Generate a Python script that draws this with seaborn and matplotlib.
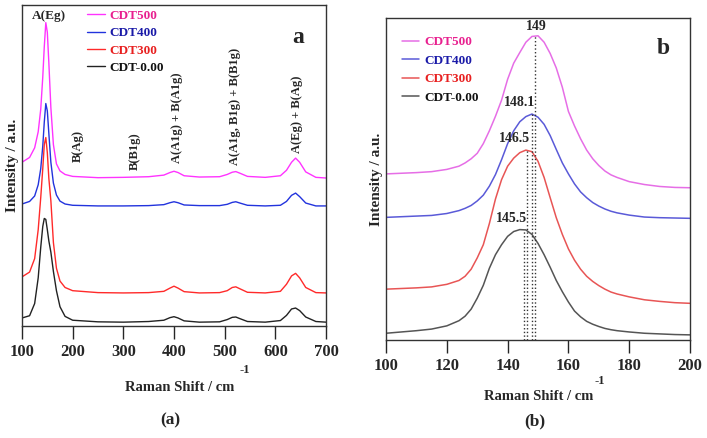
#!/usr/bin/env python3
# -*- coding: utf-8 -*-
"""
plot.py

Raman spectra of the CDT samples: full range (a) and zoom on the Eg band (b)
"""

import matplotlib

matplotlib.use("Agg")
import matplotlib.pyplot as plt
import numpy as np
import pandas as pd
import seaborn as sns

# Sample names, legend order (top curve first)
SAMPLES = ["CDT500", "CDT400", "CDT300", "CDT-0.00"]

# Panel (a): Raman shift (cm-1) and offset intensities (a.u.)
SHIFT_A = [100, 115, 125, 132, 137, 141, 144, 147, 150, 153, 157, 162, 168,
           175, 185, 200, 250, 300, 350, 380, 392, 400, 408, 420, 450, 490,
           505, 515, 522, 530, 545, 580, 610, 622, 632, 640, 648, 660, 680,
           700]
CDT500_A = [51.0, 52.5, 55.5, 60.5, 67.5, 77.5, 87.0, 94.5, 91.5, 82.0, 68.0,
            56.5, 50.5, 48.3, 47.2, 46.6, 46.2, 46.3, 46.5, 47.0, 47.8, 48.2,
            47.8, 46.8, 46.4, 46.5, 47.2, 47.9, 48.1, 47.6, 46.6, 46.3, 46.8,
            48.5, 51.0, 52.3, 51.0, 48.0, 46.3, 46.1]
CDT400_A = [38.0, 38.8, 40.5, 44.0, 49.0, 56.0, 63.5, 69.3, 67.0, 60.0, 51.0,
            44.5, 40.8, 38.9, 38.0, 37.6, 37.4, 37.4, 37.5, 37.8, 38.4, 38.7,
            38.4, 37.7, 37.5, 37.5, 37.9, 38.5, 38.7, 38.3, 37.6, 37.4, 37.6,
            38.8, 40.7, 41.4, 40.3, 38.3, 37.4, 37.4]
CDT300_A = [15.3, 16.8, 21.0, 30.0, 40.0, 49.0, 56.5, 58.7, 54.0, 46.0, 39.0,
            26.0, 18.0, 14.0, 12.0, 11.0, 10.4, 10.3, 10.4, 10.8, 11.8, 12.4,
            11.8, 10.7, 10.3, 10.4, 11.0, 12.0, 12.2, 11.6, 10.5, 10.3, 10.8,
            13.0, 15.6, 16.4, 15.0, 12.0, 10.4, 10.3]
CDT000_A = [2.5, 3.2, 7.0, 15.0, 24.5, 31.0, 33.5, 33.2, 30.0, 26.5, 23.0,
            17.0, 11.0, 6.0, 3.0, 1.8, 1.3, 1.2, 1.4, 1.8, 2.6, 2.9, 2.5, 1.6,
            1.2, 1.3, 2.0, 2.7, 2.8, 2.3, 1.4, 1.2, 1.7, 3.3, 5.3, 5.6, 4.8,
            2.8, 1.4, 1.2]

# Band assignments of panel (a)
BANDS = ["B(Ag)", "B(B1g)", "A(A1g) + B(A1g)", "A(A1g, B1g) + B(B1g)",
         "A(Eg) + B(Ag)"]
BAND_POS = [211, 323, 405, 520, 642]

# Panel (b): zoom on the Eg band
SHIFT_B = [100, 105, 110, 115, 120,
           124, 126, 128, 130, 132, 134, 136, 138, 140, 142, 144, 146, 148,
           150, 152, 154, 156, 158, 160, 162, 164, 166, 168, 170, 172, 174,
           176,
           180, 185, 190, 195, 200]
CDT500_B = [51.6, 51.8, 52.0, 52.3, 53.0,
            54.0, 55.0, 56.3, 58.0, 61.0, 65.0, 69.5, 74.5, 81.0, 86.0, 89.3,
            92.5, 94.3, 94.5, 92.5, 89.0, 84.5, 78.5, 71.0, 66.5, 62.5, 59.0,
            56.3, 54.2, 52.5, 51.3, 50.5,
            49.2, 48.3, 47.7, 47.4, 47.3]
CDT400_B = [38.1, 38.3, 38.5, 38.7, 39.3,
            40.2, 40.9, 41.8, 43.2, 45.0, 47.8, 51.4, 56.0, 61.0, 65.0, 67.8,
            69.4, 70.2, 69.2, 67.0, 63.5, 59.2, 55.0, 51.6, 48.5, 46.0, 44.2,
            42.7, 41.6, 40.7, 40.0, 39.5,
            38.8, 38.2, 38.0, 37.9, 37.8]
CDT300_B = [15.8, 16.0, 16.2, 16.5, 17.3,
            18.5, 19.8, 22.0, 25.5, 29.6, 36.2, 43.8, 49.8, 54.0, 56.5, 58.2,
            59.0, 58.5, 55.5, 50.5, 44.2, 38.0, 32.8, 28.3, 24.8, 22.0, 19.8,
            18.2, 16.9, 15.8, 14.9, 14.3,
            13.4, 12.5, 12.0, 11.6, 11.4]
CDT000_B = [2.1, 2.5, 2.9, 3.4, 4.4,
            6.0, 7.4, 9.6, 13.0, 17.0, 22.3, 26.5, 29.6, 32.2, 33.7, 34.3,
            34.2, 32.8, 30.0, 26.5, 22.6, 18.5, 15.0, 11.8, 9.0, 7.2, 5.8,
            4.9, 4.2, 3.6, 3.2, 2.9,
            2.5, 2.1, 1.9, 1.7, 1.6]

# Peak positions of the Eg band read in panel (b), same order as SAMPLES
PEAK_POS = [149.0, 148.1, 146.5, 145.5]
PEAK_LABELS = ["149", "148.1", "146.5", "145.5"]

COLORS_A = ["#ff33ff", "#2233dd", "#ff2a2a", "#222222"]
COLORS_B = ["#e66ee6", "#5a5ad8", "#e85555", "#555555"]
TEXT_COLORS = ["#e8208f", "#1a1aa8", "#e82020", "#111111"]


def long_table(shift, series):
    """Builds a long-form table from the shift vector and a list of series"""
    frames = []
    for name, values in zip(SAMPLES, series):
        frames.append(pd.DataFrame({"shift": shift, "intensity": values,
                                    "sample": name}))
    return pd.concat(frames, ignore_index=True)


def style_axes(ax, xlim, xticks, label_pos, sup_pos, letter, letter_pos):
    """Common decoration of both panels"""
    ax.set_xlim(xlim)
    ax.set_ylim(0, 100)
    ax.set_xticks(xticks)
    ax.set_yticks([])
    ax.tick_params(axis="x", direction="out", length=9, width=1, pad=4,
                   labelsize=12)
    for spine in ax.spines.values():
        spine.set_visible(True)
        spine.set_linewidth(1.0)
        spine.set_color("#333333")

    ax.set_xlabel("")
    ax.set_ylabel("")
    ax.text(label_pos[0], label_pos[1], "Raman Shift / cm",
            transform=ax.transAxes, ha="center", va="center", fontsize=10.5)
    ax.text(sup_pos[0], sup_pos[1], "-1", transform=ax.transAxes,
            ha="center", va="center", fontsize=9)
    ax.text(-0.032, 0.5, "Intensity / a.u.", transform=ax.transAxes,
            rotation=90, ha="center", va="center", fontsize=11)
    ax.text(letter_pos[0], letter_pos[1], letter, transform=ax.transAxes,
            ha="center", va="center", fontsize=17)


def draw_legend(ax, anchor, spacing):
    handles, labels = ax.get_legend_handles_labels()
    leg = ax.legend(handles, labels, loc="upper left", bbox_to_anchor=anchor,
                    frameon=False, fontsize=9.5, handlelength=1.3,
                    handletextpad=0.4, labelspacing=spacing, borderpad=0,
                    borderaxespad=0)
    for text, color in zip(leg.get_texts(), TEXT_COLORS):
        text.set_color(color)


sns.set_style("ticks")
plt.rcParams["font.family"] = ["Liberation Serif", "DejaVu Serif"]
plt.rcParams["font.weight"] = "bold"

fig = plt.figure(figsize=(7.07, 4.38), dpi=100)
ax_a = fig.add_axes([0.0311, 0.2557, 0.430, 0.733])
ax_b = fig.add_axes([0.546, 0.2237, 0.430, 0.735])

# Panel (a)
df_a = long_table(SHIFT_A, [CDT500_A, CDT400_A, CDT300_A, CDT000_A])
sns.lineplot(data=df_a, x="shift", y="intensity", hue="sample",
             hue_order=SAMPLES, palette=dict(zip(SAMPLES, COLORS_A)),
             linewidth=1.0, sort=False, ax=ax_a)
style_axes(ax_a, (100, 700), range(100, 701, 100), (0.52, -0.19),
           (0.733, -0.137), "a", (0.908, 0.90))
draw_legend(ax_a, (0.215, 0.985), 0.38)

ax_a.text(153, 96.5, "A(Eg)", ha="center", va="center", fontsize=9.5)
band_bottom = [51.0, 48.6, 50.8, 50.2, 53.9]
for name, pos, y0 in zip(BANDS, BAND_POS, band_bottom):
    ax_a.text(pos, y0, name, rotation=90, ha="center", va="bottom",
              fontsize=9)

# Panel (b)
df_b = long_table(SHIFT_B, [CDT500_B, CDT400_B, CDT300_B, CDT000_B])
sns.lineplot(data=df_b, x="shift", y="intensity", hue="sample",
             hue_order=SAMPLES, palette=dict(zip(SAMPLES, COLORS_B)),
             linewidth=1.1, sort=False, ax=ax_b)
style_axes(ax_b, (100, 200), range(100, 201, 20), (0.502, -0.174),
           (0.704, -0.127), "b", (0.911, 0.907))
draw_legend(ax_b, (0.053, 0.944), 0.48)

# Dotted markers of the peak maxima
for i, series in enumerate([CDT500_B, CDT400_B, CDT300_B, CDT000_B]):
    top = np.max(series)
    ax_b.vlines(PEAK_POS[i], 0, top, colors="#333333", linestyles=":",
                linewidth=1.0)
    if i == 0:
        ax_b.text(PEAK_POS[i] + 0.3, top + 0.8, PEAK_LABELS[i], ha="center",
                  va="bottom", fontsize=10)
    else:
        ax_b.text(PEAK_POS[i] + 1.0, top + 1.5, PEAK_LABELS[i], ha="right",
                  va="bottom", fontsize=10)

fig.text(0.241, 0.041, "(a)", ha="center", va="center", fontsize=12.5)
fig.text(0.757, 0.039, "(b)", ha="center", va="center", fontsize=12.5)

fig.savefig("out.png", dpi=100)
